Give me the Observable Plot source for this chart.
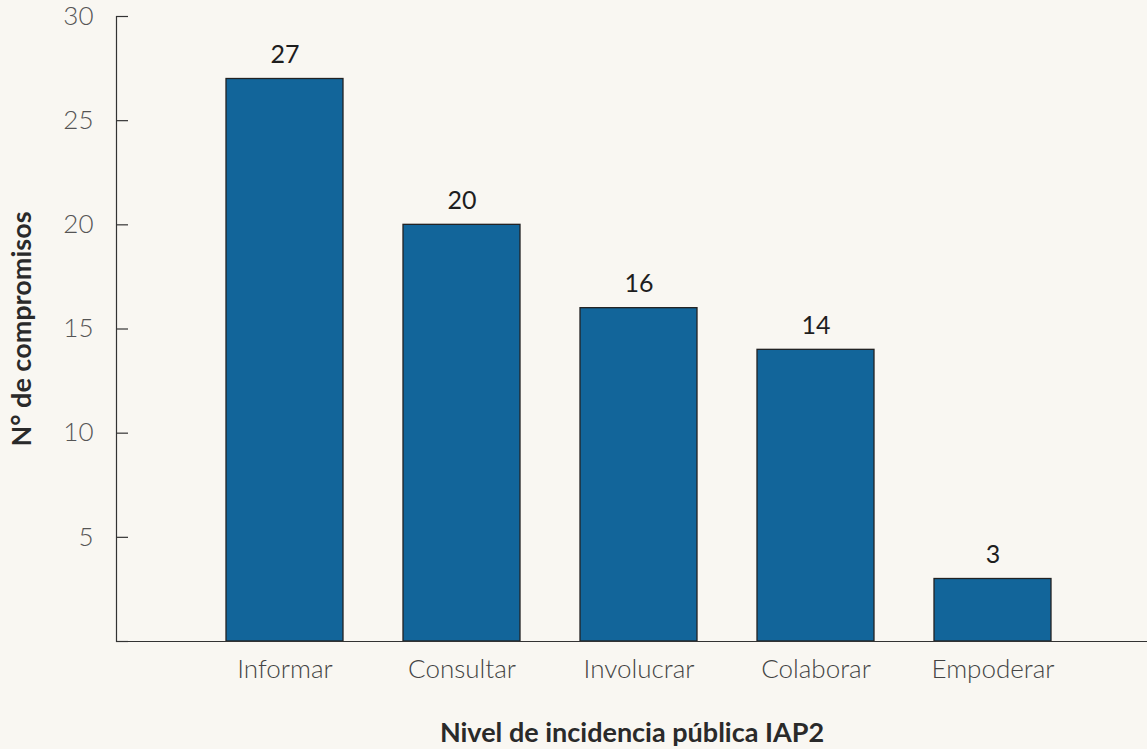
<!DOCTYPE html>
<html>
<head>
<meta charset="utf-8">
<script src="https://cdn.jsdelivr.net/npm/d3@7"></script>
<script src="https://cdn.jsdelivr.net/npm/@observablehq/plot@0.6"></script>
<style>
  html, body { margin: 0; padding: 0; background: #f9f7f2; }
  #chart svg { display: block; }
</style>
</head>
<body>
<div id="chart"></div>
<script>
const categories = ["Informar", "Consultar", "Involucrar", "Colaborar", "Empoderar"];
const values = [27, 20, 16, 14, 3];
const yTicks = [0, 5, 10, 15, 20, 25, 30];
const yTickLabels = ["", "5", "10", "15", "20", "25", "30"];
const xTitle = "Nivel de incidencia pública IAP2";
const yTitle = "N° de compromisos";

const data = categories.map((c, i) => ({category: c, value: values[i]}));
const font = "Lato, 'Open Sans', sans-serif";

const chart = Plot.plot({
  width: 1147,
  height: 749,
  marginTop: 16,
  marginLeft: 116,
  marginRight: 0,
  marginBottom: 108,
  style: {background: "#f9f7f2", fontFamily: font, overflow: "visible"},
  x: {domain: categories, range: [194.4, 1083], paddingInner: 0.34, paddingOuter: 0.17, label: null},
  y: {domain: [0, 30], label: null},
  marks: [
    Plot.barY(data, {x: "category", y: "value", fill: "#12659a", stroke: "#222", strokeWidth: 1.3}),
    Plot.text(data, {x: "category", y: "value", text: d => String(d.value), dy: -24, fontSize: 25, fill: "#1e1e1e", fontFamily: font}),
    Plot.axisY({ticks: yTicks, tickSize: -12, text: null, stroke: "#333", strokeWidth: 1.2}),
    Plot.axisY({ticks: yTicks, tickSize: 0, tickPadding: 23, tickFormat: (d) => yTickLabels[yTicks.indexOf(d)], fontSize: 26, fontWeight: 300, fill: "#555", fontFamily: font}),
    Plot.axisX({tickSize: 0, tickPadding: 18, fontSize: 26, fontWeight: 300, fill: "#444", fontFamily: font}),
    Plot.frame({anchor: "left", stroke: "#333", strokeWidth: 1.2}),
    Plot.ruleY([0], {stroke: "#333", strokeWidth: 1.2}),
    Plot.text([xTitle], {frameAnchor: "bottom", dy: 100, text: d => d, fontSize: 27, fontWeight: 700, fill: "#2a2a2a", fontFamily: font, letterSpacing: "1.5px"}),
    Plot.text([yTitle], {frameAnchor: "left", textAnchor: "middle", dx: -94, rotate: -90, text: d => d, fontSize: 27, fontWeight: 700, fill: "#2a2a2a", fontFamily: font, letterSpacing: "1.5px"})
  ]
});
document.getElementById("chart").appendChild(chart);
</script>
</body>
</html>
